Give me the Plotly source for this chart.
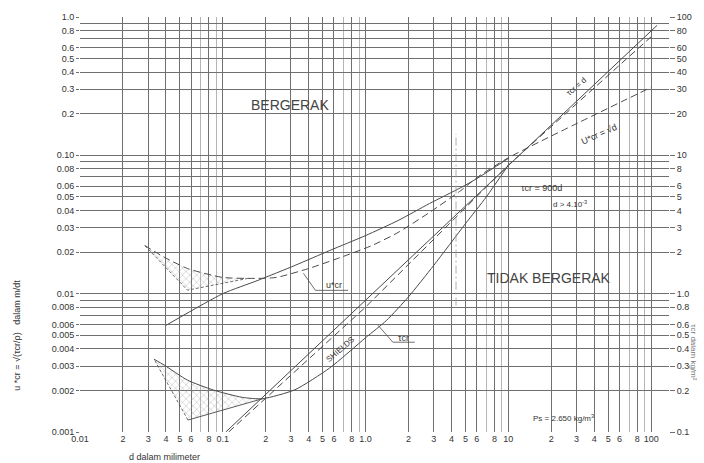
import plotly.graph_objects as go

# ---------------- axis ticks ----------------
x_tick_vals = [0.01, 0.02, 0.03, 0.04, 0.05, 0.06, 0.08,
               0.1, 0.2, 0.3, 0.4, 0.5, 0.6, 0.8,
               1, 2, 3, 4, 5, 6, 8,
               10, 20, 30, 40, 50, 60, 80, 100]
x_tick_text = ["0.01", "2", "3", "4", "5", "6", "8",
               "0.1", "2", "3", "4", "5", "6", "8",
               "1.0", "2", "3", "4", "5", "6", "8",
               "10", "2", "3", "4", "5", "6", "8", "100"]
x_minor_vals = [0.07, 0.09, 0.7, 0.9, 7, 9, 70, 90]

y_tick_vals = [0.001, 0.002, 0.003, 0.004, 0.005, 0.006, 0.008,
               0.01, 0.02, 0.03, 0.04, 0.05, 0.06, 0.08,
               0.1, 0.2, 0.3, 0.4, 0.5, 0.6, 0.8, 1.0]
y_tick_text = ["0.001", "0.002", "0.003", "0.004", "0.005", "0.006", "0.008",
               "0.01", "0.02", "0.03", "0.04", "0.05", "0.06", "0.08",
               "0.10", "0.2", "0.3", "0.4", "0.5", "0.6", "0.8", "1.0"]
y_minor_vals = [0.007, 0.009, 0.07, 0.09, 0.7, 0.9]
y2_tick_vals = [0.1, 0.2, 0.3, 0.4, 0.5, 0.6, 0.8, 1, 2, 3, 4, 5, 6, 8,
                10, 20, 30, 40, 50, 60, 80, 100]
y2_tick_text = ["0.1", "0.2", "0.3", "0.4", "0.5", "0.6", "0.8", "1.0", "2", "3", "4", "5", "6", "8",
                "10", "20", "30", "40", "50", "60", "80", "100"]

# ---------------- curves (d in mm) ----------------
# critical shear velocity u*cr (dashed), continuing as u*cr = sqrt(d)
ucr_d = [0.0284, 0.038, 0.0566, 0.1, 0.177, 0.237, 0.4, 0.67, 1.11, 1.69, 2.8, 4.64, 6.0, 10, 100]
ucr_v = [0.0223, 0.0186, 0.0152, 0.0131, 0.0129, 0.0131, 0.0152, 0.0183, 0.0223, 0.0277,
         0.0386, 0.0556, 0.0689, 0.096, 0.31]

# straight solid line in the u*cr range
ulin_d = [0.04, 0.1, 0.177, 0.32, 0.56, 1.0, 1.69, 2.8, 4.64, 6.0, 10]
ulin_v = [0.0059, 0.0100, 0.0125, 0.016, 0.0205, 0.0263, 0.0338, 0.0448, 0.0584, 0.0678, 0.095]

# critical shear stress tau_cr (solid curve)
tau_d = [0.033, 0.039, 0.0566, 0.086, 0.137, 0.19, 0.32, 0.56, 1.0, 1.4, 2.0, 3.0, 5.0, 7.0, 10]
tau_v = [0.00336, 0.00304, 0.00237, 0.00201, 0.00178, 0.00174, 0.00202, 0.0029, 0.0048,
         0.0064, 0.0095, 0.016, 0.032, 0.05, 0.085]

# tau_cr = 900 d (solid straight)
t900_d = [0.105, 110]
t900_v = [0.001, 0.87]

# Shields line (dashed straight)
shields_d = [0.11, 1.0, 10, 100]
shields_v = [0.001, 0.0080, 0.085, 0.72]

# scatter bands: upper edge first, then the lower corner
band_u_d = [0.0284, 0.038, 0.0566, 0.1, 0.15, 0.0566, 0.0284]
band_u_v = [0.0223, 0.0186, 0.0152, 0.0131, 0.0129, 0.0106, 0.0223]
band_t_d = [0.033, 0.039, 0.0566, 0.086, 0.137, 0.19, 0.057, 0.033]
band_t_v = [0.00336, 0.00304, 0.00237, 0.00201, 0.00178, 0.00174, 0.00122, 0.00336]

# limit d = 4 mm
limit_d = [4.3, 4.3]
limit_v = [0.0082, 0.143]

INK = "#4a4a4a"
GRID = "#6f6f6f"
FONT = "Liberation Sans, Arial, sans-serif"

fig = go.Figure()


def line(xs, ys, dash="solid", width=1.0, color=INK, smooth=True):
    shape = dict(shape="spline", smoothing=0.6) if smooth else dict(shape="linear")
    fig.add_trace(go.Scatter(x=xs, y=ys, mode="lines", hoverinfo="skip",
                             line=dict(color=color, width=width, dash=dash, **shape)))


# hatched scatter bands
for bx, by in [(band_u_d, band_u_v), (band_t_d, band_t_v)]:
    fig.add_trace(go.Scatter(x=bx, y=by, mode="lines", fill="toself", hoverinfo="skip",
                             line=dict(width=0, color="rgba(0,0,0,0)"),
                             fillcolor="rgba(0,0,0,0)",
                             fillpattern=dict(shape="x", size=5, solidity=0.25,
                                              fgcolor="#9a9a9a", bgcolor="rgba(0,0,0,0)")))

# band outlines
line(band_u_d[4:7], band_u_v[4:7], dash="3px,2px", width=0.8, smooth=False)
line(band_t_d[5:7], band_t_v[5:7], width=0.9, smooth=False)
line(band_t_d[6:8], band_t_v[6:8], dash="3px,2px", width=0.8, smooth=False)

line(ucr_d, ucr_v, dash="7px,4px")
line(ulin_d, ulin_v)
line(tau_d, tau_v)
line(t900_d, t900_v, smooth=False)
line(shields_d, shields_v, dash="7px,4px", smooth=False)
line(limit_d, limit_v, dash="8px,3px,2px,3px", width=0.8, color="#9a9a9a", smooth=False)

# right axis carrier (values x100)
fig.add_trace(go.Scatter(x=[1], y=[1], yaxis="y2", mode="markers",
                         marker=dict(opacity=0), hoverinfo="skip"))

X0, X1, Y0, Y1 = 80, 673, 16, 432


def P(px, py):
    return (px - X0) / (X1 - X0), (Y1 - py) / (Y1 - Y0)


def text(px, py, s, size=9, angle=0, color="#333"):
    x, y = P(px, py)
    fig.add_annotation(x=x, y=y, xref="paper", yref="paper", text=s, showarrow=False,
                       textangle=angle, font=dict(family=FONT, size=size, color=color),
                       xanchor="center", yanchor="middle")


def seg(pts, color=INK, width=0.8):
    for (a, b), (c, d) in zip(pts[:-1], pts[1:]):
        x0, y0 = P(a, b)
        x1, y1 = P(c, d)
        fig.add_shape(type="line", xref="paper", yref="paper", x0=x0, y0=y0, x1=x1, y1=y1,
                      line=dict(color=color, width=width))


text(291, 104, "BERGERAK", size=14, color="#444")
text(552, 278, "TIDAK BERGERAK", size=14, color="#444")
text(545, 187, "τcr = 900d", size=9)
text(573, 203, "d > 4.10<sup>-3</sup>", size=8)
text(567, 418, "Ps = 2.650 kg/m<sup>3</sup>", size=8)
text(603, 133, "U*cr = √d", size=9, angle=-24)
text(580, 86, "τcr = d", size=8, angle=-41)
text(342, 349, "SHIELDS", size=8, angle=-41)
text(336, 285, "u*cr", size=9)
text(406, 338, "τcr", size=9)
seg([(305, 273), (317, 290), (350, 290)])
seg([(380, 325), (395, 342), (417, 342)])

# axis titles
text(17, 335, "u *cr = √(τcr/ρ)   dalam m/dt", size=9, angle=-90)
text(165, 457, "d dalam milimeter", size=9)
text(698, 352, "τcr dalam kg/m²", size=8, angle=90, color="#777")

fig.update_layout(
    width=704, height=463,
    margin=dict(l=X0, r=704 - X1, t=Y0, b=463 - Y1, pad=0),
    paper_bgcolor="white", plot_bgcolor="white",
    showlegend=False,
    font=dict(family=FONT, size=9, color="#333"),
    xaxis=dict(type="log", range=[-2, 2.125], tickvals=x_tick_vals, ticktext=x_tick_text,
               showgrid=True, gridcolor=GRID, gridwidth=1, zeroline=False, showline=False,
               ticks="", tickfont=dict(size=9, color="#333"),
               minor=dict(tickvals=x_minor_vals, showgrid=True, gridcolor="#b5b5b5", gridwidth=1)),
    yaxis=dict(type="log", range=[-3, 0], tickvals=y_tick_vals, ticktext=y_tick_text,
               showgrid=True, gridcolor=GRID, gridwidth=1, zeroline=False, showline=False,
               ticks="outside", ticklen=3, tickcolor=GRID, tickfont=dict(size=9, color="#333"),
               minor=dict(tickvals=y_minor_vals, showgrid=True, gridcolor=GRID, gridwidth=1)),
    yaxis2=dict(type="log", range=[-1, 2], overlaying="y", side="right",
                tickvals=y2_tick_vals, ticktext=y2_tick_text, showgrid=False, zeroline=False,
                ticks="outside", ticklen=5, tickcolor=GRID, tickfont=dict(size=9, color="#333")),
)

fig.write_html("out.html")
